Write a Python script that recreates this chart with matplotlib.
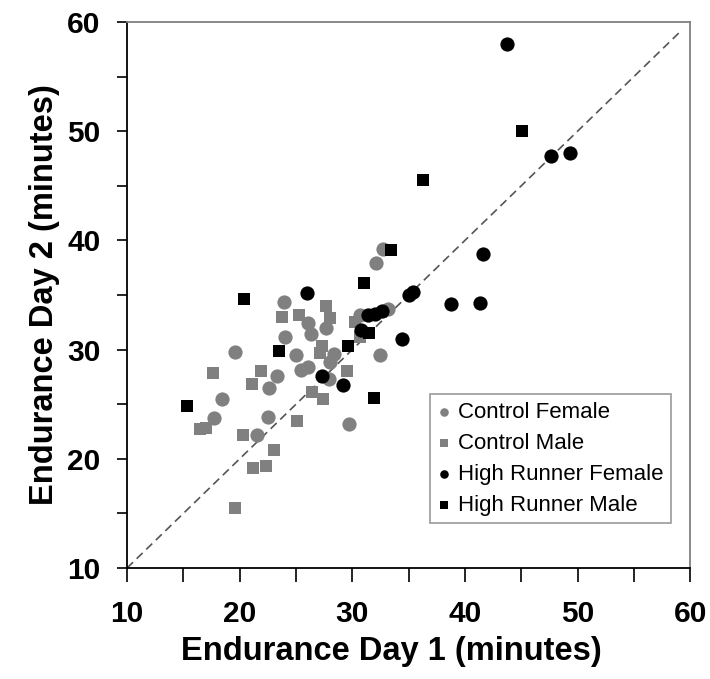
import matplotlib
matplotlib.use('Agg')
import matplotlib.pyplot as plt
import numpy as np

plt.rcParams['font.family'] = ['Liberation Sans', 'DejaVu Sans']

# %% data (minutes)
cf_day1 = [32.7, 32.1, 23.9, 26.05, 27.7, 24.0, 26.3, 25.0, 28.4, 28.0, 25.4, 26.1,
           23.3, 22.6, 27.9, 32.5, 33.2, 30.7, 19.6, 18.4, 17.7, 22.55, 21.5, 29.7]
cf_day2 = [39.2, 37.9, 34.4, 32.4, 31.95, 31.2, 31.4, 29.5, 29.6, 28.9, 28.1, 28.4,
           27.6, 26.5, 27.3, 29.5, 33.7, 33.2, 29.8, 25.5, 23.7, 23.85, 22.2, 23.2]

cm_day1 = [17.6, 16.5, 17.0, 21.9, 21.1, 20.3, 25.1, 23.05, 21.2, 22.3, 26.4, 27.4,
           29.5, 27.7, 25.3, 23.8, 28.0, 27.35, 27.1, 30.25, 30.7, 19.6]
cm_day2 = [27.9, 22.7, 22.85, 28.0, 26.85, 22.2, 23.5, 20.8, 19.2, 19.3, 26.1, 25.5,
           28.0, 34.0, 33.2, 33.0, 32.9, 30.3, 29.7, 32.5, 31.2, 15.5]

hf_day1 = [26.0, 27.3, 29.2, 30.8, 31.4, 32.0, 32.6, 34.4, 35.0, 35.4, 38.8, 41.3,
           41.6, 43.7, 47.65, 49.3]
hf_day2 = [35.2, 27.6, 26.75, 31.8, 33.2, 33.3, 33.5, 31.0, 35.0, 35.3, 34.2, 34.3,
           38.75, 58.0, 47.7, 48.0]

hm_day1 = [15.3, 20.4, 23.5, 29.6, 31.0, 31.5, 31.9, 33.4, 36.3, 45.1]
hm_day2 = [24.8, 34.6, 29.9, 30.3, 36.1, 31.5, 25.6, 39.1, 45.5, 50.0]

# %% figure
fig = plt.figure(figsize=(7.10, 6.79), dpi=100)
ax = fig.add_axes([0.179, 0.1635, 0.793, 0.804])

gray = '#808080'
ax.plot([10, 59], [10, 59], color='#555555', linestyle=(0, (5, 3)), linewidth=1.2, zorder=1)

ax.scatter(cf_day1, cf_day2, s=105, marker='o', color=gray, linewidths=0, label='Control Female', zorder=2)
ax.scatter(cm_day1, cm_day2, s=85, marker='s', color=gray, linewidths=0, label='Control Male', zorder=2)
ax.scatter(hf_day1, hf_day2, s=105, marker='o', color='black', linewidths=0, label='High Runner Female', zorder=3)
ax.scatter(hm_day1, hm_day2, s=85, marker='s', color='black', linewidths=0, label='High Runner Male', zorder=3)

ax.set_xlim(10, 60)
ax.set_ylim(10, 60)
ax.set_xticks(np.arange(10, 61, 10))
ax.set_yticks(np.arange(10, 61, 10))
ax.set_xticks(np.arange(15, 60, 10), minor=True)
ax.set_yticks(np.arange(15, 60, 10), minor=True)
ax.tick_params(axis='x', which='both', direction='out', length=10, width=1.2, pad=13, labelsize=21.5)
ax.tick_params(axis='y', which='both', direction='out', length=7, width=1.2, pad=12, labelsize=21.5)
for lab in ax.get_xticklabels() + ax.get_yticklabels():
    lab.set_fontweight('bold')

ax.spines['left'].set_color('black')
ax.spines['bottom'].set_color('black')
ax.spines['top'].set_color(gray)
ax.spines['right'].set_color(gray)
for sp in ax.spines.values():
    sp.set_linewidth(1.3)

ax.set_xlabel('Endurance Day 1 (minutes)', fontsize=23.5, fontweight='bold', labelpad=3)
ax.set_ylabel('Endurance Day 2 (minutes)', fontsize=23.5, fontweight='bold', labelpad=5)
ax.xaxis.set_label_coords(0.47, -0.125)

leg = ax.legend(loc='upper left', bbox_to_anchor=(0.538, 0.319), borderaxespad=0,
                fontsize=16, markerscale=0.6, handlelength=0.6, handletextpad=0.3,
                labelspacing=0.45, fancybox=False, frameon=True, borderpad=0.35)
leg.get_frame().set_edgecolor(gray)
leg.get_frame().set_linewidth(1.2)

plt.savefig('out.png', dpi=100)
